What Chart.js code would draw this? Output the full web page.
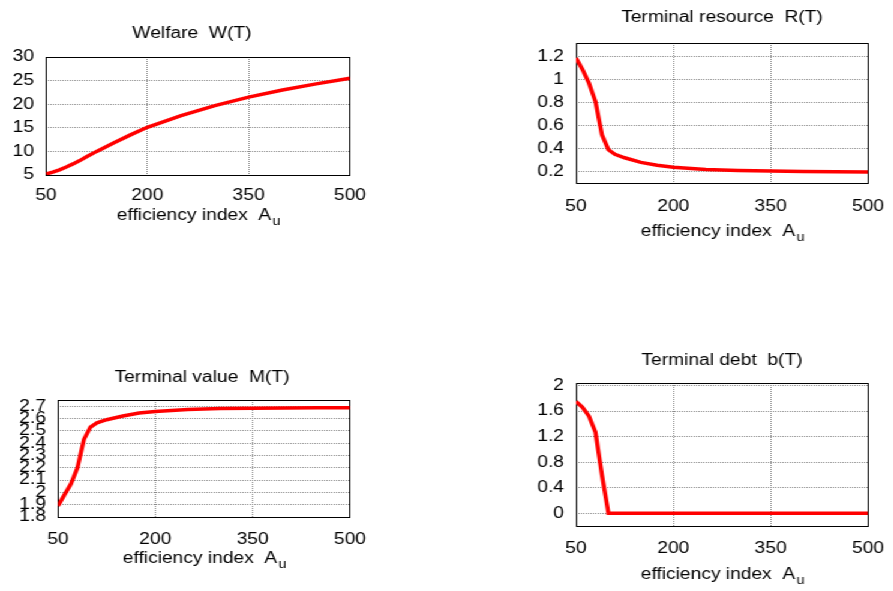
<!doctype html>
<html lang="en">
<head>
<meta charset="utf-8">
<title>Terminal state vs efficiency index</title>
<style>
  body { margin: 0; background: #fff; overflow: hidden; }
  #sheet { position: absolute; left: 0; top: 0; height: 591px; transform-origin: 0 0; }
  #sheet canvas { position: absolute; }
</style>
</head>
<body>
<div id="sheet">
  <canvas id="welfare"></canvas>
  <canvas id="resource"></canvas>
  <canvas id="value"></canvas>
  <canvas id="debt"></canvas>
</div>
<script src="https://cdn.jsdelivr.net/npm/chart.js@4.4.1/dist/chart.umd.min.js"></script>
<script>
// efficiency index A_u and the terminal quantities computed for each run
const effIndex  = [50, 60, 70, 80, 90, 100, 110, 125, 150, 175, 200, 250, 300, 350, 400, 450, 500];
const welfare   = [5.2, 5.6, 6.1, 6.7, 7.35, 8.05, 8.85, 10.0, 11.8, 13.5, 15.1, 17.6, 19.7, 21.5, 23.0, 24.3, 25.5];
const resource  = [1.19, 1.09, 0.97, 0.81, 0.52, 0.39, 0.35, 0.32, 0.28, 0.255, 0.237, 0.217, 0.21, 0.205, 0.2, 0.197, 0.195];
const termValue = [1.89, 1.98, 2.07, 2.2, 2.43, 2.53, 2.565, 2.59, 2.62, 2.645, 2.657, 2.672, 2.68, 2.683, 2.685, 2.687, 2.688];
const debt      = [1.75, 1.66, 1.52, 1.27, 0.6, 0, 0, 0, 0, 0, 0, 0, 0, 0, 0, 0, 0];

const xTicks        = [50, 200, 350, 500];
const welfareTicks  = [5, 10, 15, 20, 25, 30];
const resourceTicks = [0.2, 0.4, 0.6, 0.8, 1, 1.2];
const valueTicks    = [1.8, 1.9, 2, 2.1, 2.2, 2.3, 2.4, 2.5, 2.6, 2.7];
const debtTicks     = [0, 0.4, 0.8, 1.2, 1.6, 2];

// the whole sheet is stretched horizontally, like the old gnuplot png
const SX = 1.2;
const W = 893, H = 591;
const FONT = '"Liberation Sans", Arial, Helvetica, sans-serif';
const sheet = document.getElementById('sheet');
sheet.style.width = (W / SX) + 'px';
sheet.style.transform = 'scaleX(' + SX + ')';

// frame around the plot area + titles (axis title has a subscript)
const framePlugin = {
  id: 'frame',
  beforeDatasetsDraw(chart) {
    const a = chart.chartArea, ctx = chart.ctx;
    ctx.save();
    ctx.strokeStyle = '#000';
    ctx.lineWidth = 1;
    ctx.strokeRect(Math.round(a.left) + 0.5, Math.round(a.top) + 0.5,
                   Math.round(a.right - a.left), Math.round(a.bottom - a.top));
    ctx.restore();
  },
  afterDraw(chart, args, opts) {
    const a = chart.chartArea, ctx = chart.ctx;
    const mid = (a.left + a.right) / 2;
    ctx.save();
    ctx.fillStyle = '#000';
    ctx.textBaseline = 'alphabetic';
    ctx.font = '16px ' + FONT;
    ctx.textAlign = 'center';
    ctx.fillText(opts.title, mid + opts.titleDx / SX, a.top - opts.titleDy);

    const main = 'efficiency index  A';
    const wMain = ctx.measureText(main).width;
    ctx.font = '12px ' + FONT;
    const wSub = ctx.measureText('u').width;
    const x0 = mid - (wMain + wSub) / 2;
    const yb = a.bottom + opts.xTitleDy;
    ctx.textAlign = 'left';
    ctx.font = '16px ' + FONT;
    ctx.fillText(main, x0, yb);
    ctx.font = '12px ' + FONT;
    ctx.fillText('u', x0 + wMain + 1, yb + 5);
    ctx.restore();
  }
};

function fmt(v) { return String(+v.toFixed(2)); }

function makePanel(id, box, values, yMin, yMax, yTicks, text) {
  // canvas may run past the right edge of the page, the body clips it
  const cx = Math.max(0, box.l - 60), cr = box.r + 50;
  const cy = Math.max(0, box.t - 45), cb = Math.min(H, box.b + 64);
  const canvas = document.getElementById(id);
  canvas.width = Math.round((cr - cx) / SX);
  canvas.height = cb - cy;
  canvas.style.left = (cx / SX) + 'px';
  canvas.style.top = cy + 'px';

  const yAxisW = (box.l - cx) / SX;
  const padRight = canvas.width - (box.r - cx) / SX;
  const xAxisH = cb - box.b;

  const grid = { color: '#8a8a8a', lineWidth: 1, drawTicks: false };
  const border = { display: false, dash: [1, 1] };

  return new Chart(canvas, {
    type: 'line',
    data: {
      datasets: [{
        data: effIndex.map((x, i) => ({ x: x, y: values[i] })),
        borderColor: '#ff0000',
        borderWidth: 3.5,
        pointRadius: 0,
        tension: 0,
        fill: false
      }]
    },
    options: {
      responsive: false,
      animation: false,
      layout: { padding: { left: 0, right: padRight, top: box.t - cy, bottom: 0 } },
      plugins: {
        legend: { display: false },
        tooltip: { enabled: false },
        frame: text
      },
      scales: {
        x: {
          type: 'linear', min: 50, max: 500,
          afterBuildTicks: s => { s.ticks = xTicks.map(v => ({ value: v })); },
          afterFit: s => { s.height = xAxisH; },
          grid: grid, border: border,
          ticks: { color: '#000', font: { family: FONT, size: 16 }, padding: text.tickPad,
                   maxRotation: 0, autoSkip: false, callback: fmt }
        },
        y: {
          type: 'linear', min: yMin, max: yMax,
          afterBuildTicks: s => { s.ticks = yTicks.map(v => ({ value: v })); },
          afterFit: s => { s.width = yAxisW; },
          grid: grid, border: border,
          ticks: { color: '#000', font: { family: FONT, size: 16 }, padding: 10,
                   autoSkip: false, callback: fmt }
        }
      }
    },
    plugins: [framePlugin]
  });
}

makePanel('welfare', { l: 46, r: 350, t: 57, b: 175 }, welfare, 5, 30, welfareTicks,
  { title: 'Welfare  W(T)', titleDx: -6, titleDy: 19, tickPad: 10.5, xTitleDy: 45 });
makePanel('resource', { l: 576, r: 868, t: 43, b: 183 }, resource, 0.1, 1.32, resourceTicks,
  { title: 'Terminal resource  R(T)', titleDx: 0, titleDy: 21, tickPad: 13.5, xTitleDy: 53 });
makePanel('value', { l: 58, r: 350, t: 400, b: 517 }, termValue, 1.8, 2.75, valueTicks,
  { title: 'Terminal value  M(T)', titleDx: -2, titleDy: 18, tickPad: 12.5, xTitleDy: 46 });
makePanel('debt', { l: 576, r: 868, t: 383, b: 526 }, debt, -0.2, 2.04, debtTicks,
  { title: 'Terminal debt  b(T)', titleDx: 0, titleDy: 18, tickPad: 13, xTitleDy: 53 });
</script>
</body>
</html>
